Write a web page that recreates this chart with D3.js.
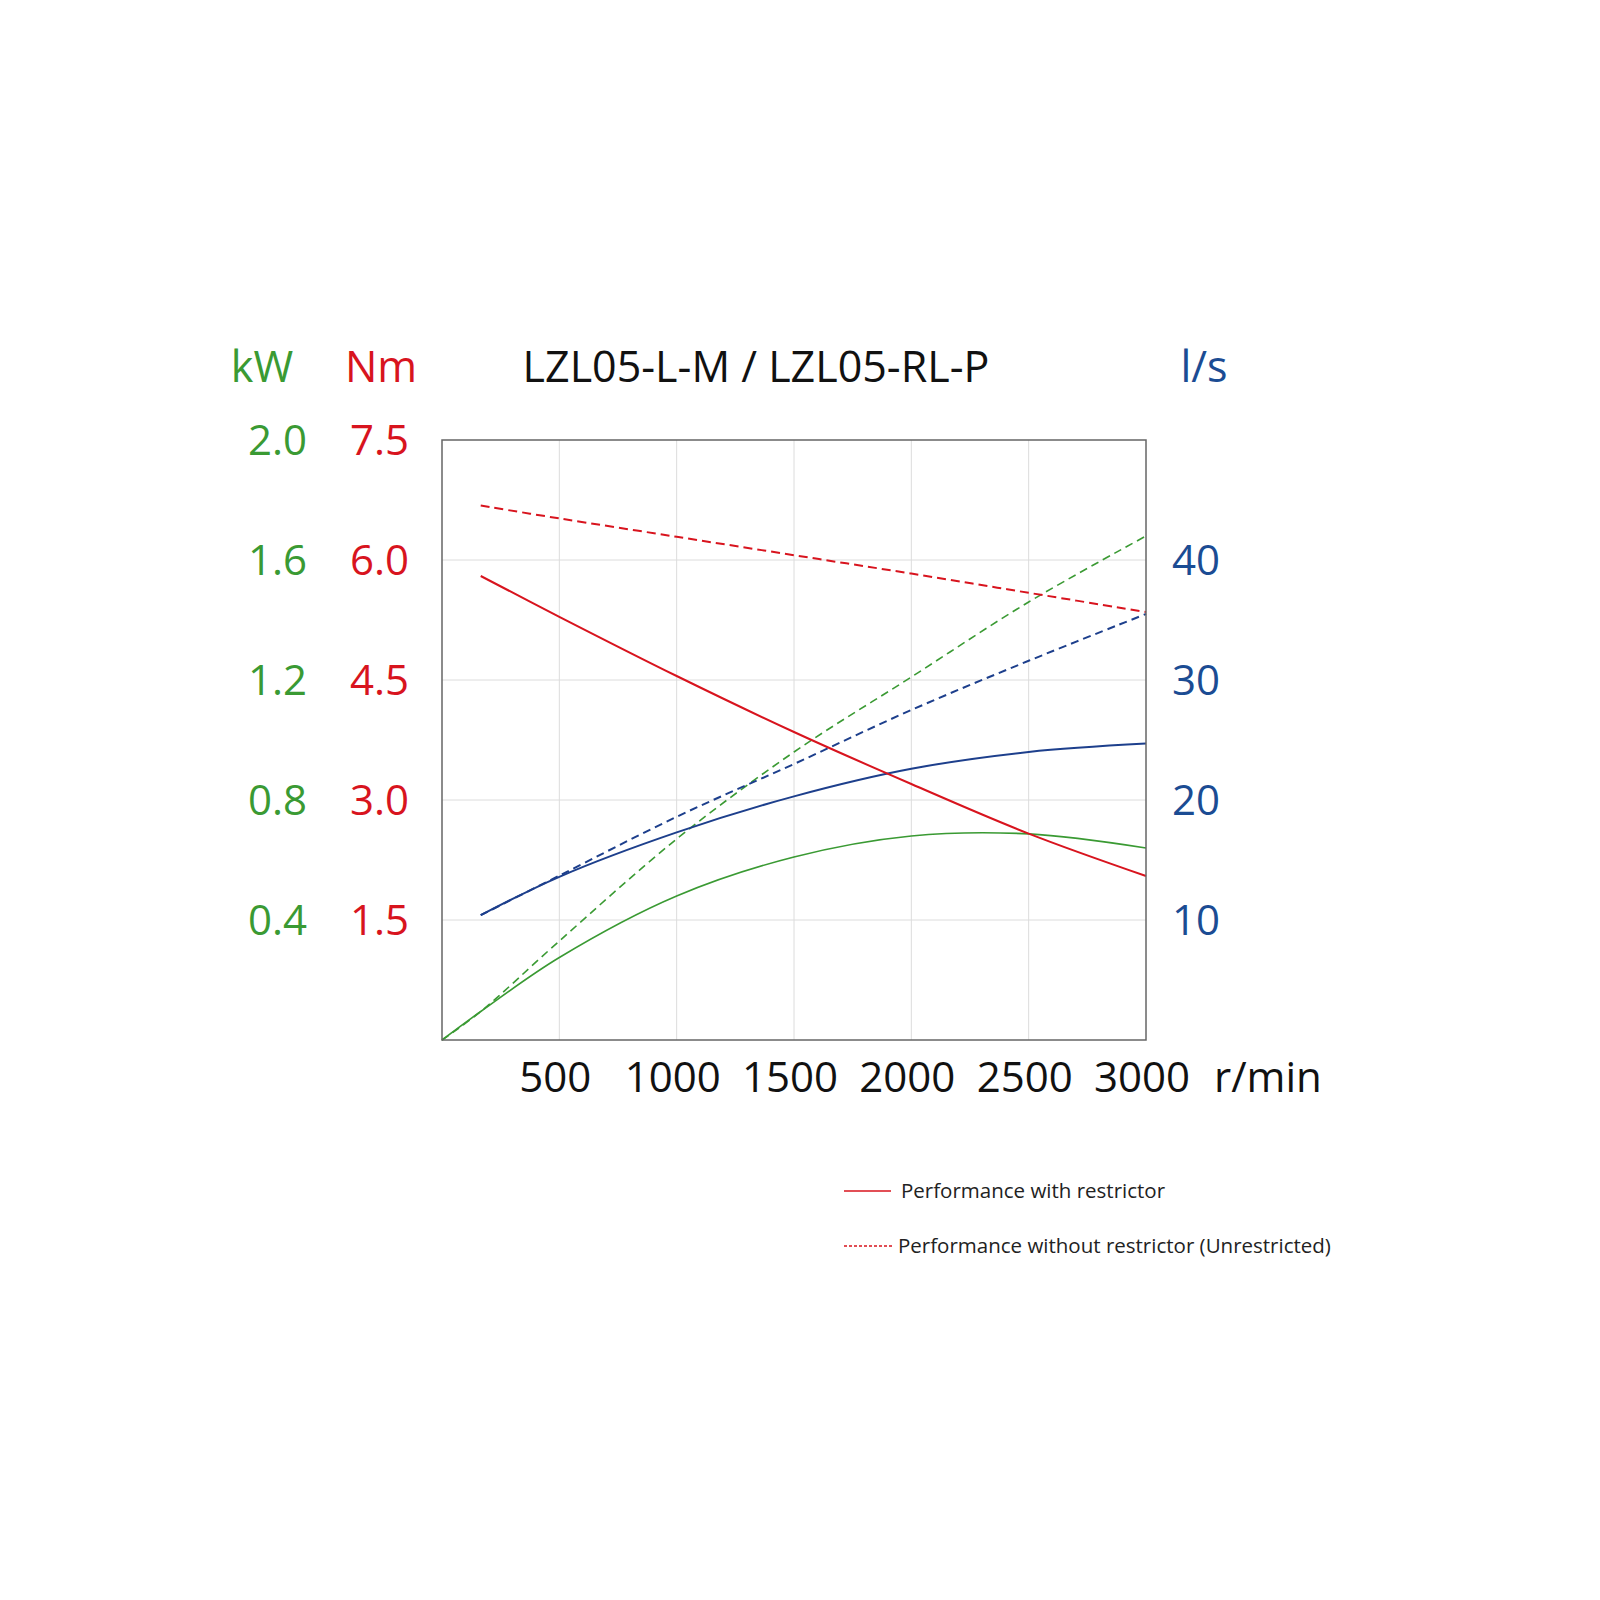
<!DOCTYPE html>
<html>
<head>
<meta charset="utf-8">
<script src="https://cdn.jsdelivr.net/npm/d3@7"></script>
<style>
  body { margin: 0; background: #fff; }
  text { font-family: "Open Sans", "Noto Sans", sans-serif; }
</style>
</head>
<body>
<script>
// speeds (r/min) and curves
const speedTorque = [165, 500, 1000, 1500, 2000, 2500, 3000];
const torqueRestricted = [5.80, 5.29, 4.55, 3.85, 3.20, 2.58, 2.05];
const torqueFree = [6.68, 6.52, 6.29, 6.06, 5.83, 5.59, 5.35];
const airRestricted = [10.4, 13.6, 17.3, 20.3, 22.6, 24.0, 24.7];
const airFree = [10.4, 13.7, 18.6, 23.0, 27.5, 31.6, 35.5];

const speedPower = [0, 165, 500, 1000, 1500, 2000, 2500, 3000];
const powerRestricted = [0, 0.095, 0.275, 0.48, 0.61, 0.68, 0.687, 0.64];
const powerFree = [0, 0.095, 0.33, 0.67, 0.96, 1.21, 1.46, 1.68];

const speedTicks = [500, 1000, 1500, 2000, 2500, 3000];
const kwTicks = [0.4, 0.8, 1.2, 1.6, 2.0];
const nmTicks = [1.5, 3.0, 4.5, 6.0, 7.5];
const flowTicks = [10, 20, 30, 40];

const title = "LZL05-L-M / LZL05-RL-P";
const legendLabels = [
  "Performance with restrictor",
  "Performance without restrictor (Unrestricted)"
];

const green = "#3a9a33",
  red = "#d8141e",
  blue = "#1b4c93",
  navy = "#1d3f8c";

const width = 1600,
  height = 1600,
  plot = { left: 442, right: 1146, top: 440, bottom: 1040 };

const x = d3.scaleLinear([0, 3000], [plot.left, plot.right]);
const yKw = d3.scaleLinear([0, 2.0], [plot.bottom, plot.top]);
const yNm = d3.scaleLinear([0, 7.5], [plot.bottom, plot.top]);
const yFlow = d3.scaleLinear([0, 50], [plot.bottom, plot.top]);

const svg = d3
  .select("body")
  .append("svg")
    .attr("width", width)
    .attr("height", height);

// grid
const grid = svg.append("g");
grid
  .selectAll("line.v")
  .data(speedTicks.slice(0, -1))
  .enter()
  .append("line")
    .attr("x1", d => x(d))
    .attr("x2", d => x(d))
    .attr("y1", plot.top)
    .attr("y2", plot.bottom)
    .attr("stroke", "#dcdcdc")
    .attr("stroke-width", 1);

grid
  .selectAll("line.h")
  .data(kwTicks.slice(0, -1))
  .enter()
  .append("line")
    .attr("x1", plot.left)
    .attr("x2", plot.right)
    .attr("y1", d => yKw(d))
    .attr("y2", d => yKw(d))
    .attr("stroke", "#dcdcdc")
    .attr("stroke-width", 1);

// curves
function curve(xs, ys, yScale) {
  return d3
    .line()
    .x((d, i) => x(xs[i]))
    .y(d => yScale(d))
    .curve(d3.curveCatmullRom)(ys);
}

const series = [
  { xs: speedPower, ys: powerFree, y: yKw, color: green, w: 1.6, dash: "8,5" },
  { xs: speedTorque, ys: airFree, y: yFlow, color: navy, w: 2, dash: "8,5" },
  { xs: speedTorque, ys: torqueFree, y: yNm, color: red, w: 2, dash: "9,5" },
  { xs: speedPower, ys: powerRestricted, y: yKw, color: green, w: 1.6, dash: null },
  { xs: speedTorque, ys: airRestricted, y: yFlow, color: navy, w: 2, dash: null },
  { xs: speedTorque, ys: torqueRestricted, y: yNm, color: red, w: 2, dash: null }
];

svg
  .selectAll("path.series")
  .data(series)
  .enter()
  .append("path")
    .attr("class", "series")
    .attr("d", s => curve(s.xs, s.ys, s.y))
    .attr("fill", "none")
    .attr("stroke", s => s.color)
    .attr("stroke-width", s => s.w)
    .attr("stroke-dasharray", s => s.dash);

// frame
svg
  .append("rect")
    .attr("x", plot.left)
    .attr("y", plot.top)
    .attr("width", plot.right - plot.left)
    .attr("height", plot.bottom - plot.top)
    .attr("fill", "none")
    .attr("stroke", "#666")
    .attr("stroke-width", 1.5);

// axes labels
const big = 42;

svg
  .selectAll("text.xt")
  .data(speedTicks)
  .enter()
  .append("text")
    .attr("x", d => x(d) - 4)
    .attr("y", 1092)
    .attr("text-anchor", "middle")
    .attr("font-size", big)
    .attr("fill", "#111")
    .text(d => d);

svg
  .selectAll("text.kw")
  .data(kwTicks)
  .enter()
  .append("text")
    .attr("x", 307)
    .attr("y", d => yKw(d))
    .attr("dy", "0.36em")
    .attr("text-anchor", "end")
    .attr("font-size", big)
    .attr("fill", green)
    .text(d => d.toFixed(1));

svg
  .selectAll("text.nm")
  .data(nmTicks)
  .enter()
  .append("text")
    .attr("x", 409)
    .attr("y", d => yNm(d))
    .attr("dy", "0.36em")
    .attr("text-anchor", "end")
    .attr("font-size", big)
    .attr("fill", red)
    .text(d => d.toFixed(1));

svg
  .selectAll("text.flow")
  .data(flowTicks)
  .enter()
  .append("text")
    .attr("x", 1172)
    .attr("y", d => yFlow(d))
    .attr("dy", "0.36em")
    .attr("font-size", big)
    .attr("fill", blue)
    .text(d => d);

const heads = [
  { t: "kW", x: 262, c: green },
  { t: "Nm", x: 381, c: red },
  { t: title, x: 756, c: "#111" },
  { t: "l/s", x: 1204, c: blue }
];

svg
  .selectAll("text.head")
  .data(heads)
  .enter()
  .append("text")
    .attr("x", d => d.x)
    .attr("y", 382)
    .attr("text-anchor", "middle")
    .attr("font-size", 43)
    .attr("fill", d => d.c)
    .text(d => d.t);

svg
  .append("text")
    .attr("x", 1214)
    .attr("y", 1092)
    .attr("font-size", big)
    .attr("fill", "#111")
    .text("r/min");

// legend
const legend = svg
  .selectAll("g.legend")
  .data(legendLabels)
  .enter()
  .append("g")
    .attr("transform", (d, i) => "translate(844, " + (1191 + i * 55) + ")");

legend
  .append("line")
    .attr("x1", 0)
    .attr("x2", (d, i) => (i ? 49 : 47))
    .attr("stroke", red)
    .attr("stroke-width", 1.5)
    .attr("stroke-dasharray", (d, i) => (i ? "3,2" : null));

legend
  .append("text")
    .attr("x", (d, i) => (i ? 54 : 57))
    .attr("dy", "0.35em")
    .attr("font-size", 20.5)
    .attr("fill", "#222")
    .text(d => d);
</script>
</body>
</html>
